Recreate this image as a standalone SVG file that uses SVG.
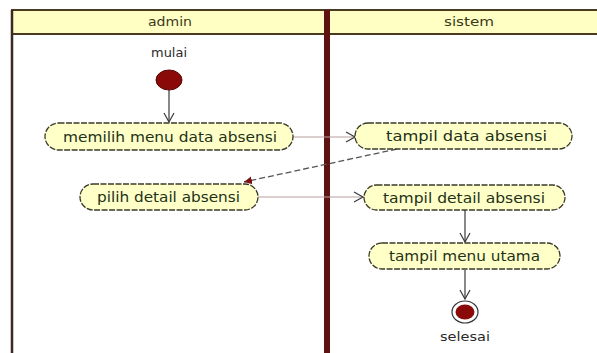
<svg xmlns="http://www.w3.org/2000/svg" width="597" height="353" viewBox="0 0 597 353">
<style>
.hdr{fill:#ffffc4;stroke:#4a3a20;stroke-width:2}
.hdrt{font-family:"DejaVu Sans",sans-serif;font-size:12px;fill:#3a3a20;text-anchor:middle}
.act rect{fill:#ffffc8;stroke:#3a3a28;stroke-width:1.3;stroke-dasharray:6 1.5}
.act text{font-family:"DejaVu Sans",sans-serif;font-size:13.5px;fill:#1e3218;text-anchor:middle}
.lbl{font-family:"DejaVu Sans",sans-serif;font-size:12px;fill:#2a2a2a;text-anchor:middle}
.flow{fill:none;stroke:#3a3a3a;stroke-width:1.2}
.msg{fill:none;stroke:#b8a0a0;stroke-width:1.2}
.dash{fill:none;stroke:#555555;stroke-width:1.3;stroke-dasharray:6 3}
</style>
<defs>
<marker id="open" markerWidth="12" markerHeight="12" refX="10" refY="6" orient="auto" markerUnits="userSpaceOnUse">
<path d="M1,1 L10,6 L1,11" fill="none" stroke="#3a3a3a" stroke-width="1.2"/>
</marker>
<marker id="solid" markerWidth="10" markerHeight="10" refX="8" refY="5" orient="auto" markerUnits="userSpaceOnUse">
<path d="M0,1 L8,5 L0,9 Z" fill="#7a1010"/>
</marker>
</defs>
<rect x="0" y="0" width="597" height="353" fill="#ffffff"/>
<g id="lanes">
<rect class="hdr" x="12" y="10" width="590" height="24"/>
<line x1="12" y1="10" x2="12" y2="360" stroke="#3a2a20" stroke-width="2.5"/>
<line x1="327" y1="10" x2="327" y2="360" stroke="#5e1212" stroke-width="6"/>
<text class="hdrt" x="170" y="26" textLength="44" lengthAdjust="spacingAndGlyphs">admin</text>
<text class="hdrt" x="469" y="26" textLength="50" lengthAdjust="spacingAndGlyphs">sistem</text>
</g>
<g id="connectors">
<line class="flow" x1="169" y1="90" x2="169" y2="122" marker-end="url(#open)"/>
<line class="msg" x1="293" y1="137" x2="355" y2="137" marker-end="url(#open)"/>
<line class="dash" x1="397" y1="149" x2="244" y2="182" marker-end="url(#solid)"/>
<line class="msg" x1="258" y1="197" x2="363" y2="197" marker-end="url(#open)"/>
<line class="flow" x1="465" y1="210" x2="465" y2="242" marker-end="url(#open)"/>
<line class="flow" x1="465" y1="270" x2="465" y2="299" marker-end="url(#open)"/>
</g>
<g id="start">
<text class="lbl" x="169" y="57" textLength="36" lengthAdjust="spacingAndGlyphs">mulai</text>
<ellipse cx="169" cy="80" rx="13" ry="10" fill="#8a0a0a" stroke="#5a0505" stroke-width="1"/>
</g>
<g id="a1" class="act">
<rect x="45" y="123" width="248" height="27" rx="13.5"/>
<text x="170" y="141.5" textLength="214" lengthAdjust="spacingAndGlyphs">memilih menu data absensi</text>
</g>
<g id="a2" class="act">
<rect x="80" y="184" width="178" height="26" rx="13"/>
<text x="168.5" y="202" textLength="143" lengthAdjust="spacingAndGlyphs">pilih detail absensi</text>
</g>
<g id="a3" class="act">
<rect x="355" y="123" width="217" height="26" rx="13"/>
<text x="466.5" y="141" textLength="161" lengthAdjust="spacingAndGlyphs">tampil data absensi</text>
</g>
<g id="a4" class="act">
<rect x="364" y="185" width="201" height="25" rx="12.5"/>
<text x="464" y="202.5" textLength="162" lengthAdjust="spacingAndGlyphs">tampil detail absensi</text>
</g>
<g id="a5" class="act">
<rect x="369" y="243" width="191" height="26" rx="13"/>
<text x="464.5" y="261" textLength="151" lengthAdjust="spacingAndGlyphs">tampil menu utama</text>
</g>
<g id="end">
<ellipse cx="465" cy="312" rx="13" ry="11" fill="#ffffff" stroke="#333" stroke-width="1.2"/>
<ellipse cx="465" cy="312" rx="9.5" ry="7.5" fill="#8a0a0a"/>
<text class="lbl" x="465" y="341" textLength="50" lengthAdjust="spacingAndGlyphs">selesai</text>
</g>
</svg>
